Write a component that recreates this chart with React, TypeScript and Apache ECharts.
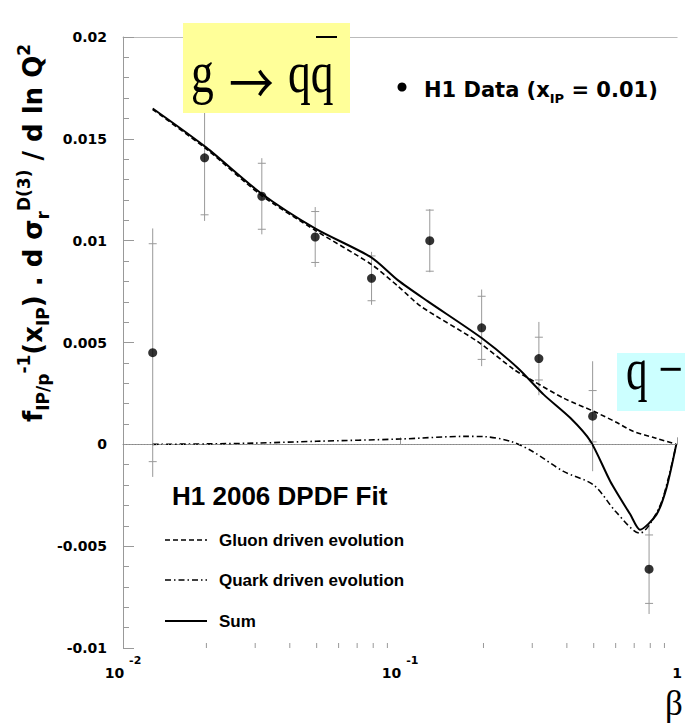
import React, { useEffect, useRef } from "react";
import * as echarts from "echarts";

// ---- data ----
const dataBeta = [0.0128, 0.0197, 0.0317, 0.0494, 0.0789, 0.128, 0.197, 0.317, 0.4955, 0.792];
const dataValue = [0.0045, 0.01407, 0.01218, 0.01018, 0.00815, 0.01, 0.00572, 0.00421, 0.00138, -0.00613];
const dataStatErr = [0.00535, 0.0028, 0.00162, 0.00125, 0.0011, 0.0015, 0.00155, 0.00105, 0.00126, 0.00168];
const dataTotErr = [0.0061, 0.0031, 0.00187, 0.00147, 0.0013, 0.00155, 0.00188, 0.0018, 0.0027, 0.0022];

const sumBeta = [0.0128, 0.02, 0.0314, 0.0495, 0.0787, 0.0984, 0.126, 0.197, 0.266, 0.33, 0.412, 0.487, 0.574, 0.678, 0.734, 0.842, 0.915, 0.993];
const sumValue = [0.01649, 0.01457, 0.01234, 0.01059, 0.00918, 0.00805, 0.00702, 0.00522, 0.00375, 0.00244, 0.00129, 0.00015, -0.00182, -0.00345, -0.00419, -0.00345, -0.00215, 0];

const gluonBeta = [0.0128, 0.02, 0.0314, 0.0495, 0.0787, 0.0984, 0.119, 0.19, 0.258, 0.304, 0.389, 0.5, 0.6, 0.694, 0.84, 0.993];
const gluonValue = [0.01644, 0.0145, 0.01225, 0.0105, 0.00884, 0.00776, 0.00677, 0.00506, 0.00367, 0.00309, 0.00227, 0.00162, 0.0011, 0.00064, 0.0003, 0];

const quarkBeta = [0.0128, 0.02, 0.03, 0.05, 0.1, 0.171, 0.2, 0.25, 0.3, 0.389, 0.5, 0.6, 0.733, 0.86, 0.93, 0.993];
const quarkValue = [0, 0.00002, 0.00006, 0.00015, 0.00026, 0.00039, 0.00038, 0.00015, -0.00034, -0.00133, -0.002, -0.0033, -0.00436, -0.00313, -0.00166, 0];

const yTicks = { min: -0.01, max: 0.02, interval: 0.005 };
const xRange = { min: 0.01, max: 1 };
const xMinorTicks = [0.02, 0.03, 0.04, 0.05, 0.06, 0.07, 0.08, 0.09, 0.2, 0.3, 0.4, 0.5, 0.6, 0.7, 0.8, 0.9];

const legendTitle = "H1 2006 DPDF Fit";
const legendLabels = ["Gluon driven evolution", "Quark driven evolution", "Sum"];

const AXIS = "#999";
const SANS = "DejaVu Sans";
const ARIAL = "Liberation Sans";
const SERIF = "Liberation Serif";

function buildOption() {
  const pointData = dataBeta.map((b, i) => [b, dataValue[i], dataStatErr[i], dataTotErr[i]]);
  const pairs = (xs: number[], ys: number[]) => xs.map((x, i) => [x, ys[i]]);

  const legendY = [540, 580, 621];
  const legendDash: any[] = [[5, 3], [6, 3, 1.5, 3], null];

  const graphic: any[] = [
    // yellow box
    { type: "rect", z: 100, shape: { x: 183, y: 23, width: 167, height: 90 }, style: { fill: "#ffff99" } },
    { type: "text", z: 101, x: 191, y: 72, scaleX: 0.76, style: { text: "g", font: `60px "${SERIF}"`, fill: "#000", verticalAlign: "middle" } },
    { type: "text", z: 101, x: 229, y: 80, scaleX: 0.8, style: { text: "→", font: `56px "Noto Sans CJK JP"`, fill: "#000", verticalAlign: "middle" } },
    { type: "text", z: 101, x: 288, y: 72, scaleX: 0.76, style: { text: "qq", font: `60px "${SERIF}"`, fill: "#000", verticalAlign: "middle" } },
    { type: "line", z: 101, shape: { x1: 316, y1: 37, x2: 337, y2: 37 }, style: { stroke: "#000", lineWidth: 2 } },
    // cyan box
    { type: "rect", z: 100, shape: { x: 617, y: 353, width: 70, height: 58 }, style: { fill: "#ccffff" } },
    { type: "text", z: 101, x: 626, y: 368, scaleX: 0.72, style: { text: "q −", font: `60px "${SERIF}"`, fill: "#000", verticalAlign: "middle" } },
    // H1 data legend
    { type: "circle", z: 101, shape: { cx: 402, cy: 87, r: 4.5 }, style: { fill: "#000" } },
    {
      type: "text", z: 101, x: 424, y: 90,
      style: {
        text: "{m|H1 Data (x}{s|IP}{m| = 0.01)}",
        verticalAlign: "middle", fill: "#000",
        rich: {
          m: { fontFamily: SANS, fontWeight: "bold", fontSize: 21, lineHeight: 30, fill: "#000" },
          s: { fontFamily: SANS, fontWeight: "bold", fontSize: 13, verticalAlign: "bottom", fill: "#000" },
        },
      },
    },
    // fit legend
    { type: "text", z: 101, x: 172, y: 496, style: { text: legendTitle, font: `bold 26px "${ARIAL}"`, fill: "#000", verticalAlign: "middle" } },
    ...legendLabels.flatMap((lab, i) => [
      { type: "line", z: 101, shape: { x1: 165, y1: legendY[i], x2: 207, y2: legendY[i] }, style: { stroke: "#000", lineWidth: i === 2 ? 2 : 1.5, lineDash: legendDash[i] } },
      { type: "text", z: 101, x: 219, y: legendY[i], style: { text: lab, font: `bold 17px "${ARIAL}"`, fill: "#000", verticalAlign: "middle" } },
    ]),
    // y axis title
    {
      type: "text", z: 101, x: 33, y: 422, rotation: Math.PI / 2,
      style: {
        text: "{m|f}{b|IP/p}{p|-1}{m|(x}{b|IP}{m|) . d σ}{b|r}{p|D(3)}{m| / d ln Q}{p|2}",
        align: "left", verticalAlign: "middle", fill: "#000",
        rich: {
          m: { fontFamily: SANS, fontWeight: "bold", fontSize: 26, lineHeight: 36, fill: "#000" },
          b: { fontFamily: SANS, fontWeight: "bold", fontSize: 17, verticalAlign: "bottom", fill: "#000" },
          p: { fontFamily: SANS, fontWeight: "bold", fontSize: 17, verticalAlign: "top", fill: "#000" },
        },
      },
    },
    // beta label
    { type: "text", z: 101, x: 665, y: 703, style: { text: "β", font: `35px "${SERIF}"`, fill: "#000", verticalAlign: "middle" } },
  ];

  return {
    animation: false,
    backgroundColor: "#fff",
    grid: { left: 123, right: 4, top: 37, bottom: 77 },
    xAxis: [
      {
        type: "log", logBase: 10, min: xRange.min, max: xRange.max, position: "bottom",
        axisLine: { lineStyle: { color: AXIS, width: 1 } },
        axisTick: { inside: true, length: 7, lineStyle: { color: AXIS } },
        splitLine: { show: false },
        axisLabel: {
          margin: 4,
          formatter: (v: number) => {
            const e = Math.round(Math.log10(v));
            return e === 0 ? "{m|1}" : `{m|10}{s|${e}}`;
          },
          rich: {
            m: { fontFamily: SANS, fontWeight: "bold", fontSize: 14, lineHeight: 28, verticalAlign: "bottom", color: "#000" },
            s: { fontFamily: SANS, fontWeight: "bold", fontSize: 11, verticalAlign: "top", color: "#000", padding: [3, 0, 0, 5] },
          },
        },
      },
      {
        type: "log", logBase: 10, min: xRange.min, max: xRange.max, position: "top",
        axisLine: { show: true, lineStyle: { color: "#bbb", width: 1 } },
        axisTick: { show: false }, axisLabel: { show: false }, splitLine: { show: false },
      },
    ],
    yAxis: {
      type: "value", min: yTicks.min, max: yTicks.max, interval: yTicks.interval,
      axisLine: { show: true, lineStyle: { color: AXIS, width: 1 } },
      axisTick: { show: true, inside: true, length: 11, lineStyle: { color: AXIS } },
      minorTick: { show: true, splitNumber: 5, length: 6, lineStyle: { color: AXIS } },
      splitLine: { show: false },
      minorSplitLine: { show: false },
      axisLabel: {
        margin: 16, fontFamily: SANS, fontWeight: "bold", fontSize: 14, color: "#000",
        formatter: (v: number) => String(+v.toFixed(3)),
      },
    },
    graphic,
    series: [
      {
        type: "custom", name: "minorTicks", clip: false, silent: true, z: 1,
        data: xMinorTicks.map((b) => [b, yTicks.min]),
        encode: { x: 0, y: 1 },
        renderItem: (params: any, api: any) => {
          const p = api.coord([api.value(0), api.value(1)]);
          return { type: "line", shape: { x1: p[0], y1: p[1], x2: p[0], y2: p[1] - 5 }, style: { stroke: AXIS, lineWidth: 1 } };
        },
      },
      {
        type: "custom", name: "errors", clip: false, silent: true, z: 2,
        data: pointData,
        encode: { x: 0, y: 1 },
        renderItem: (params: any, api: any) => {
          const x = api.value(0), y = api.value(1), st = api.value(2), tot = api.value(3);
          const t = api.coord([x, y + tot]);
          const b = api.coord([x, y - tot]);
          const st1 = api.coord([x, y + st]);
          const st2 = api.coord([x, y - st]);
          const style = { stroke: "#999", lineWidth: 1 };
          return {
            type: "group",
            children: [
              { type: "line", shape: { x1: t[0], y1: t[1], x2: b[0], y2: b[1] }, style },
              { type: "line", shape: { x1: st1[0] - 4, y1: st1[1], x2: st1[0] + 4, y2: st1[1] }, style },
              { type: "line", shape: { x1: st2[0] - 4, y1: st2[1], x2: st2[0] + 4, y2: st2[1] }, style },
            ],
          };
        },
      },
      {
        type: "line", name: "Quark driven evolution", data: pairs(quarkBeta, quarkValue),
        showSymbol: false, smooth: 0.3, z: 3,
        lineStyle: { color: "#000", width: 1.6, type: [6, 3, 1.5, 3] },
        markLine: {
          silent: true, symbol: ["none", "none"], label: { show: false },
          lineStyle: { type: [1, 2], color: "#888", width: 1 },
          data: [{ yAxis: 0 }],
        },
      },
      {
        type: "line", name: "Gluon driven evolution", data: pairs(gluonBeta, gluonValue),
        showSymbol: false, smooth: 0.25, z: 3,
        lineStyle: { color: "#000", width: 1.6, type: [5, 3] },
      },
      {
        type: "line", name: "Sum", data: pairs(sumBeta, sumValue),
        showSymbol: false, smooth: 0.25, z: 4,
        lineStyle: { color: "#000", width: 2 },
      },
      {
        type: "scatter", name: "H1 Data", data: pointData.map((d) => [d[0], d[1]]),
        symbol: "circle", symbolSize: 9, z: 5,
        itemStyle: { color: "#000" },
      },
    ],
  };
}

export default function App() {
  const ref = useRef<HTMLDivElement>(null);
  useEffect(() => {
    const chart = echarts.init(ref.current!, null, { renderer: "svg" });
    chart.setOption(buildOption() as any);
    return () => chart.dispose();
  }, []);
  return (
    <div
      ref={ref}
      style={{ position: "fixed", left: 0, top: 0, width: 685, height: 725, background: "#fff" }}
    />
  );
}
